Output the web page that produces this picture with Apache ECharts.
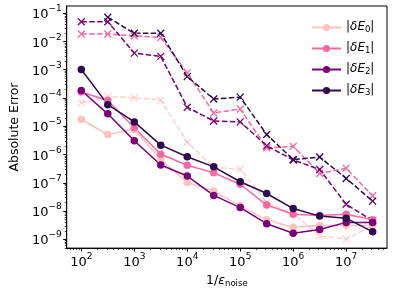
<!DOCTYPE html>
<html><head><meta charset="utf-8">
<script src="https://cdn.jsdelivr.net/npm/echarts@6/dist/echarts.min.js"></script>
<style>html,body{margin:0;padding:0;background:#fff}#c{width:394px;height:293px}</style>
</head><body><div id="c"></div>
<script>
// x values: 1/epsilon_noise
const noiseInv = [1e2, 3.16e2, 1e3, 3.16e3, 1e4, 3.16e4, 1e5, 3.16e5, 1e6, 3.16e6, 1e7, 3.16e7];
// solid lines (circles)
const dE0 = [1.7e-5, 5e-6, 7.6e-6, 6.5e-7, 1e-7, 5e-8, 1.5e-8, 4.8e-9, 2.6e-9, 3e-9, 3e-9, 3e-9];
const dE1 = [1.6e-4, 8e-5, 8.7e-6, 1e-6, 4.1e-7, 2.2e-7, 8.7e-8, 1.6e-8, 7.6e-9, 6.8e-9, 7.6e-9, 4.8e-9];
const dE2 = [1.8e-4, 2.7e-5, 3e-6, 4.2e-7, 1.7e-7, 3.5e-8, 1.3e-8, 3.5e-9, 1.6e-9, 2.2e-9, 3.9e-9, 3.9e-9];
const dE3 = [1e-3, 5.7e-5, 1.4e-5, 2.1e-6, 8.2e-7, 3.6e-7, 1.07e-7, 4.1e-8, 1.2e-8, 6.5e-9, 5.5e-9, 1.8e-9];
// dashed lines (x markers)
const dE0b = [6.6e-5, 1.1e-4, 1.0e-4, 8.2e-5, 2.7e-6, 3.4e-7, 3e-7, 2e-8, 8e-9, 1.3e-9, 1e-9, 3e-9];
const dE1b = [1.8e-2, 1.8e-2, 1.55e-2, 1.35e-2, 7.6e-4, 2.9e-5, 4e-5, 1.7e-6, 1.9e-6, 2.1e-7, 3.2e-7, 3.4e-8];
const dE2b = [4.9e-2, 4.9e-2, 3.8e-3, 2.9e-3, 4.6e-5, 1.5e-5, 1.4e-5, 2e-6, 6.3e-7, 2.9e-7, 1.7e-8, 4.5e-9];
const dE3b = [null, 7e-2, 1.9e-2, 1.9e-2, 5.6e-4, 9e-5, 1.05e-4, 5e-6, 6.5e-7, 8e-7, 1.4e-7, 2.2e-8];
// tick label exponents
const xTickExps = [2, 3, 4, 5, 6, 7];
const yTickExps = [-9, -8, -7, -6, -5, -4, -3, -2, -1];
const seriesNames = ['E0', 'E1', 'E2', 'E3'];
const colors = ['#fcc2bd', '#f768a1', '#7a0177', '#2c0a4d'];

const xMin = 53, xMax = 5.9e7, yMin = 4.8e-10, yMax = 0.176;
const FONT = 'DejaVu Sans';

function pairs(vals) {
  const out = [];
  vals.forEach((v, i) => { if (v != null) out.push([noiseInv[i], v]); });
  return out;
}
function sup(e) { return String(e).replace('-', '\u2212'); }
function expOf(v) { const e = Math.log10(v); return Math.abs(e - Math.round(e)) < 1e-6 ? Math.round(e) : null; }

const solid = [dE0, dE1, dE2, dE3];
const dashed = [dE0b, dE1b, dE2b, dE3b];
const series = [];
dashed.forEach((vals, k) => {
  series.push({
    name: 'd' + k, type: 'line', data: pairs(vals), z: 2,
    symbol: 'path://M0,0L10,10M10,0L0,10', symbolSize: 7,
    lineStyle: { color: colors[k], width: 1.5, type: [5.5, 2.4], opacity: k === 0 ? 0.75 : 1 },
    itemStyle: { color: colors[k], borderColor: colors[k], borderWidth: 1.3, opacity: k === 0 ? 0.75 : 1 },
    animation: false, emphasis: { disabled: true }
  });
});
solid.forEach((vals, k) => {
  series.push({
    name: seriesNames[k], type: 'line', data: pairs(vals), z: 3,
    symbol: 'circle', symbolSize: 7.5,
    lineStyle: { color: colors[k], width: 1.5 },
    itemStyle: { color: colors[k] },
    animation: false, emphasis: { disabled: true }
  });
});

const chart = echarts.init(document.getElementById('c'), null, { renderer: 'canvas' });
const rich = {
  b: { fontFamily: FONT, fontSize: 13, color: '#000', lineHeight: 17, verticalAlign: 'bottom' },
  s: { fontFamily: FONT, fontSize: 9, color: '#000', lineHeight: 4, verticalAlign: 'top' }
};
chart.setOption({
  animation: false,
  grid: { left: 59, right: 7, top: 6, bottom: 44, show: true, borderColor: '#000', borderWidth: 1, backgroundColor: 'transparent' },
  legend: {
    data: seriesNames, orient: 'vertical', left: 306, top: 16,
    itemWidth: 29, itemHeight: 9, itemGap: 8,
    formatter: n => '{t||}{i|\u03b4E}{sub|' + n.slice(1) + '}{t||}',
    textStyle: {
      rich: {
        t: { fontFamily: FONT, fontSize: 12, color: '#000', lineHeight: 13, verticalAlign: 'top' },
        i: { fontFamily: FONT, fontStyle: 'italic', fontSize: 12, color: '#000', lineHeight: 13, verticalAlign: 'top' },
        sub: { fontFamily: FONT, fontSize: 8.5, color: '#000', lineHeight: 6, verticalAlign: 'bottom' }
      }
    }
  },
  xAxis: {
    type: 'log', logBase: 10, min: xMin, max: xMax,
    axisLine: { show: true, lineStyle: { color: '#000', width: 1 } },
    axisTick: { show: false }, splitLine: { show: false }, minorTick: { show: false },
    axisLabel: {
      margin: 4,
      formatter: v => { const e = expOf(v); return (e !== null && xTickExps.includes(e)) ? '{b|10}{s|' + sup(e) + '}' : ''; },
      rich
    },
    name: '{n|1/}{e|\u03b5}{sub|noise}', nameLocation: 'middle', nameGap: 22,
    nameTextStyle: {
      rich: {
        n: { fontFamily: FONT, fontSize: 12.5, color: '#000', lineHeight: 14, verticalAlign: 'top' },
        e: { fontFamily: FONT, fontSize: 12.5, fontStyle: 'italic', color: '#000', lineHeight: 14, verticalAlign: 'top' },
        sub: { fontFamily: FONT, fontSize: 8.5, color: '#000', lineHeight: 6, verticalAlign: 'bottom' }
      }
    }
  },
  yAxis: {
    type: 'log', logBase: 10, min: yMin, max: yMax,
    axisLine: { show: true, lineStyle: { color: '#000', width: 1 } },
    axisTick: { show: false }, splitLine: { show: false }, minorTick: { show: false },
    axisLabel: {
      margin: 5,
      formatter: v => { const e = expOf(v); return (e !== null && yTickExps.includes(e)) ? '{b|10}{s|' + sup(e) + '}' : ''; },
      rich
    },
    name: 'Absolute Error', nameLocation: 'middle', nameGap: 36,
    nameTextStyle: { fontFamily: FONT, fontSize: 12.5, color: '#000' }
  },
  series
});

// tick marks (major + minor) positioned through the axis scales
const g = [];
const yb = chart.convertToPixel({ yAxisIndex: 0 }, yMin);
const xl = chart.convertToPixel({ xAxisIndex: 0 }, xMin);
for (let e = 1; e <= 8; e++) for (let m = 1; m <= 9; m++) {
  const v = m * Math.pow(10, e);
  if (v <= xMin || v >= xMax) continue;
  const px = Math.round(chart.convertToPixel({ xAxisIndex: 0 }, v)) + 0.5;
  const len = m === 1 ? 3.5 : 2;
  g.push({ type: 'line', silent: true, shape: { x1: px, y1: yb, x2: px, y2: yb + len }, style: { stroke: '#000', lineWidth: m === 1 ? 1 : 0.7 } });
}
for (let e = -10; e <= 0; e++) for (let m = 1; m <= 9; m++) {
  const v = m * Math.pow(10, e);
  if (v <= yMin || v >= yMax) continue;
  const py = Math.round(chart.convertToPixel({ yAxisIndex: 0 }, v)) + 0.5;
  const len = m === 1 ? 3.5 : 2;
  g.push({ type: 'line', silent: true, shape: { x1: xl, y1: py, x2: xl - len, y2: py }, style: { stroke: '#000', lineWidth: m === 1 ? 1 : 0.7 } });
}
chart.setOption({ graphic: g });
</script></body></html>
